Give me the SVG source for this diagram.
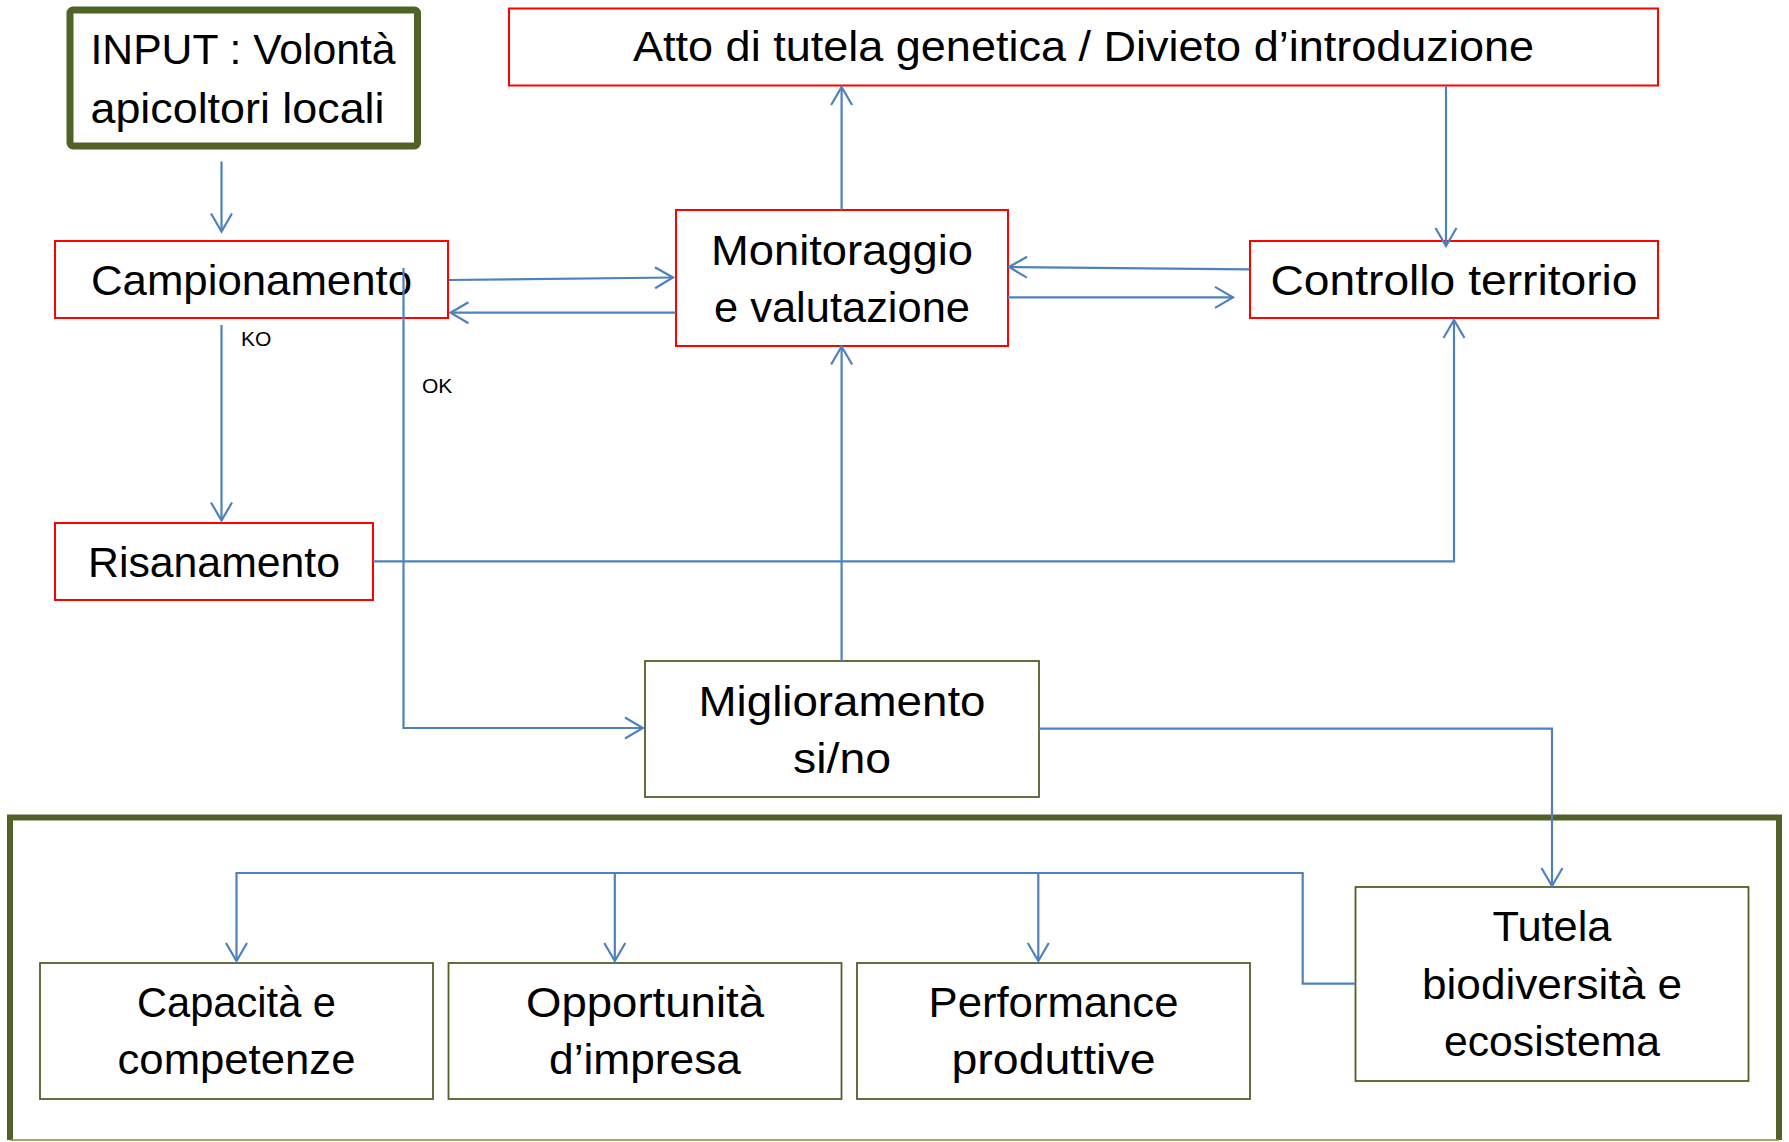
<svg xmlns="http://www.w3.org/2000/svg" width="1789" height="1142" viewBox="0 0 1789 1142">
<style>
.t{font-family:"Liberation Sans",Arial,sans-serif;font-size:42px;fill:#000}
.s{font-family:"Liberation Sans",Arial,sans-serif;font-size:21px;fill:#000}
.red{fill:#fff;stroke:#FF0000;stroke-width:2}
.grn{fill:#fff;stroke:#4F6228;stroke-width:1.8}
.c{fill:none;stroke:#4F81BD;stroke-width:2.2}
</style>
<defs>
<marker id="arr" viewBox="-20 -12 22 24" refX="0" refY="0" markerWidth="22" markerHeight="24" markerUnits="userSpaceOnUse" orient="auto">
<path d="M-18,-10.5 L0,0 L-18,10.5" fill="none" stroke="#4F81BD" stroke-width="2.2"/>
</marker>
</defs>
<rect width="1789" height="1142" fill="#fff"/>
<g id="container">
<path d="M10,1140 V817.5 H1779 V1140" fill="none" stroke="#4F6228" stroke-width="6"/>
<line x1="10" y1="1140" x2="1779" y2="1140" stroke="#77933C" stroke-width="1.5"/>
</g>
<g id="input">
<rect x="70" y="10" width="347.5" height="136" rx="3" fill="#fff" stroke="#4F6228" stroke-width="7"/>
<text class="t" x="90.5" y="64" textLength="305" lengthAdjust="spacingAndGlyphs">INPUT : Volontà</text>
<text class="t" x="90.5" y="122.5" textLength="294" lengthAdjust="spacingAndGlyphs">apicoltori locali</text>
</g>
<g id="atto">
<rect class="red" x="509" y="8.5" width="1149" height="77"/>
<text class="t" x="1083.5" y="61" text-anchor="middle" textLength="901" lengthAdjust="spacingAndGlyphs">Atto di tutela genetica / Divieto d’introduzione</text>
</g>
<g id="campionamento">
<rect class="red" x="55" y="241" width="393" height="77"/>
<text class="t" x="251.5" y="294.7" text-anchor="middle" textLength="321" lengthAdjust="spacingAndGlyphs">Campionamento</text>
</g>
<g id="monitoraggio">
<rect class="red" x="676" y="210" width="332" height="136"/>
<text class="t" x="842" y="264.5" text-anchor="middle" textLength="262" lengthAdjust="spacingAndGlyphs">Monitoraggio</text>
<text class="t" x="842" y="321.5" text-anchor="middle" textLength="256" lengthAdjust="spacingAndGlyphs">e valutazione</text>
</g>
<g id="controllo">
<rect class="red" x="1250" y="241" width="408" height="77"/>
<text class="t" x="1454" y="294.7" text-anchor="middle" textLength="367" lengthAdjust="spacingAndGlyphs">Controllo territorio</text>
</g>
<g id="risanamento">
<rect class="red" x="55" y="523" width="318" height="77"/>
<text class="t" x="214" y="577" text-anchor="middle" textLength="252" lengthAdjust="spacingAndGlyphs">Risanamento</text>
</g>
<g id="miglioramento">
<rect class="grn" x="645" y="661" width="394" height="136"/>
<text class="t" x="842" y="715.5" text-anchor="middle" textLength="287" lengthAdjust="spacingAndGlyphs">Miglioramento</text>
<text class="t" x="842" y="772.5" text-anchor="middle" textLength="98" lengthAdjust="spacingAndGlyphs">si/no</text>
</g>
<g id="capacita">
<rect class="grn" x="40" y="963" width="393" height="136"/>
<text class="t" x="236.5" y="1016.5" text-anchor="middle" textLength="199" lengthAdjust="spacingAndGlyphs">Capacità e</text>
<text class="t" x="236.5" y="1073.5" text-anchor="middle" textLength="238" lengthAdjust="spacingAndGlyphs">competenze</text>
</g>
<g id="opportunita">
<rect class="grn" x="448.5" y="963" width="393" height="136"/>
<text class="t" x="645" y="1016.5" text-anchor="middle" textLength="238" lengthAdjust="spacingAndGlyphs">Opportunità</text>
<text class="t" x="645" y="1073.5" text-anchor="middle" textLength="192" lengthAdjust="spacingAndGlyphs">d’impresa</text>
</g>
<g id="performance">
<rect class="grn" x="857" y="963" width="393" height="136"/>
<text class="t" x="1053.5" y="1016.5" text-anchor="middle" textLength="250" lengthAdjust="spacingAndGlyphs">Performance</text>
<text class="t" x="1053.5" y="1073.5" text-anchor="middle" textLength="204" lengthAdjust="spacingAndGlyphs">produttive</text>
</g>
<g id="tutela">
<rect class="grn" x="1355.5" y="887" width="393" height="194"/>
<text class="t" x="1552" y="941" text-anchor="middle" textLength="119" lengthAdjust="spacingAndGlyphs">Tutela</text>
<text class="t" x="1552" y="998.5" text-anchor="middle" textLength="260" lengthAdjust="spacingAndGlyphs">biodiversità e</text>
<text class="t" x="1552" y="1056" text-anchor="middle" textLength="216" lengthAdjust="spacingAndGlyphs">ecosistema</text>
</g>
<g id="connectors">
<path class="c" d="M221.5,161.5 V231.5" marker-end="url(#arr)"/>
<path class="c" d="M221.5,325 V520.5" marker-end="url(#arr)"/>
<path class="c" d="M449,280 L673,277.5" marker-end="url(#arr)"/>
<path class="c" d="M675.5,312.7 L450.5,312.7" marker-end="url(#arr)"/>
<path class="c" d="M841.6,210 V87" marker-end="url(#arr)"/>
<path class="c" d="M1446,86.5 V246" marker-end="url(#arr)"/>
<path class="c" d="M1249.5,269.4 L1009,267" marker-end="url(#arr)"/>
<path class="c" d="M1008,297.4 L1233,297.4" marker-end="url(#arr)"/>
<path class="c" d="M373,561.4 H1454 V320" marker-end="url(#arr)"/>
<path class="c" d="M841.6,661 V346.5" marker-end="url(#arr)"/>
<path class="c" d="M403.5,268 V728 H643" marker-end="url(#arr)"/>
<path class="c" d="M1039,728.6 H1552 V886" marker-end="url(#arr)"/>
<path class="c" d="M1355.5,983.7 H1302.7 V873 H236.5 V961" marker-end="url(#arr)"/>
<path class="c" d="M614.8,873 V961" marker-end="url(#arr)"/>
<path class="c" d="M1038.3,873 V961" marker-end="url(#arr)"/>
<text class="s" x="241" y="346">KO</text>
<text class="s" x="422" y="393">OK</text>
</g>
</svg>
